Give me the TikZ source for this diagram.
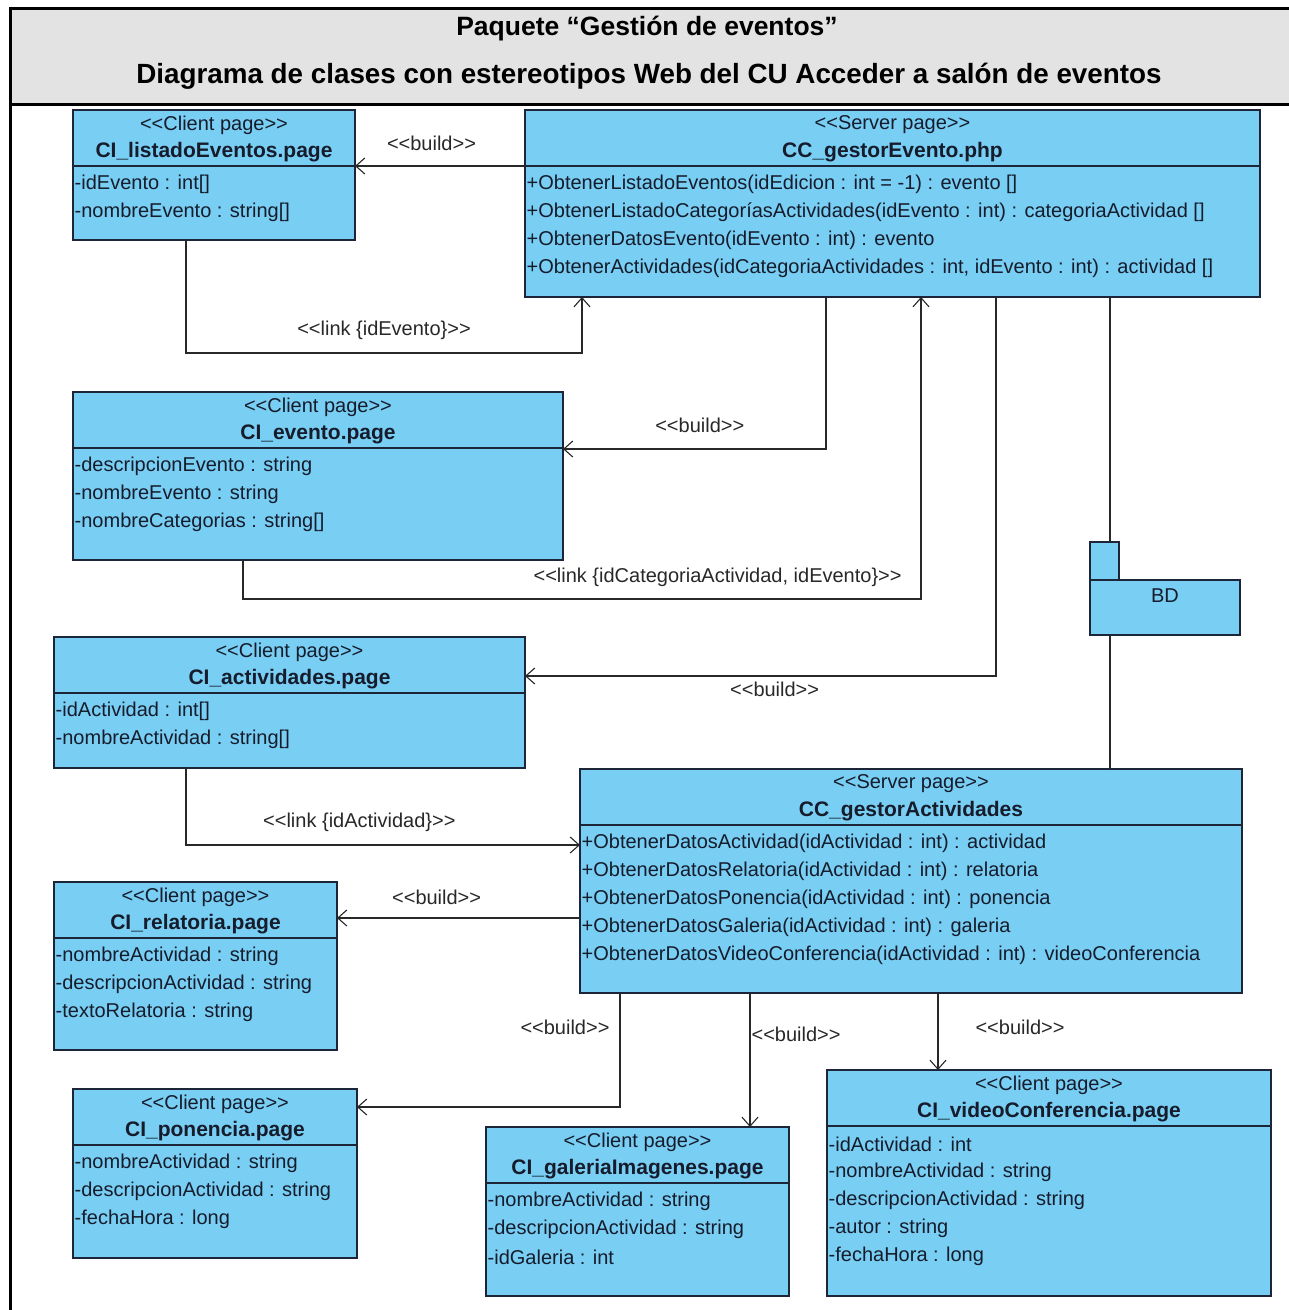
\documentclass[tikz,border=0pt]{standalone}
\usepackage{fontspec}
\setmainfont{Liberation Sans}[Ligatures=TeXOff]
\usetikzlibrary{arrows.meta}

\definecolor{classfill}{RGB}{120,206,243}
\definecolor{classdraw}{RGB}{28,38,56}
\definecolor{headgray}{RGB}{227,227,227}
\definecolor{inktext}{RGB}{22,28,44}
\definecolor{linkgray}{RGB}{40,40,40}

% class box: name, x, y, width, height, stereotype, title, members
\newcommand\umlclass[8]{%
  \node at (#2, #3) [classbox, minimum width=#4, minimum height=#5] (#1) {};
  \draw [classdraw, line width=1.3pt] ([yshift=-56]#1.north west) -- ([yshift=-56]#1.north east);
  \node at ([yshift=-15]#1.north) [member] (#1-st) {#6};
  \node at ([yshift=-42]#1.north) [member, font=\fontsize{21}{24}\selectfont\bfseries] (#1-nm) {#7};
  \foreach \m [count=\i] in {#8}
    \node at ([yshift=-46-28*\i]#1.north west) [member, anchor=west] (#1-m\i) {\m};
}

\begin{document}
\begin{tikzpicture}[x=1pt, y=-1pt,
  classbox/.style={draw=classdraw, fill=classfill, line width=1.3pt, anchor=north west, inner sep=0pt, outer sep=0pt},
  member/.style={inner sep=1.5pt, text=inktext, font=\fontsize{20}{24}\selectfont},
  lbl/.style={inner sep=1pt, text=linkgray, font=\fontsize{20}{24}\selectfont},
  build/.style={draw=linkgray, line width=1.2pt, -{Straight Barb[length=9pt, width=16pt, line width=1.1pt]}},
  plain/.style={draw=linkgray, line width=1.2pt}]
\useasboundingbox (0, 0) rectangle (1289, 1310);

%title band
\node at (10, 8) [fill=headgray, anchor=north west, minimum width=1279, minimum height=96, inner sep=0pt] (cabecera) {};
\node at (647, 29) [font=\fontsize{26.5}{30}\selectfont\bfseries] (titulo1) {Paquete “Gestión de eventos”};
\node at (649, 76) [font=\fontsize{27.8}{30}\selectfont\bfseries] (titulo2) {Diagrama de clases con estereotipos Web del CU Acceder a salón de eventos};
\draw [line width=3pt] (cabecera.north west) -- (cabecera.north east);
\draw [line width=3pt] (cabecera.south west) -- (cabecera.south east);
\draw [line width=3pt] ([yshift=1.5]cabecera.north west) -- (10, 1310);

%pages
\umlclass{listado}{73}{110}{282}{130}{<<Client page>>}{CI\_listadoEventos.page}
  {-idEvento : int[], -nombreEvento : string[]}
\umlclass{gevento}{525}{110}{735}{187}{<<Server page>>}{CC\_gestorEvento.php}
  {+ObtenerListadoEventos(idEdicion : int = -1) : evento [],
   +ObtenerListadoCategoríasActividades(idEvento : int) : categoriaActividad [],
   +ObtenerDatosEvento(idEvento : int) : evento,
   {+ObtenerActividades(idCategoriaActividades : int, idEvento : int) : actividad []}}
\umlclass{evento}{73}{392}{490}{168}{<<Client page>>}{CI\_evento.page}
  {-descripcionEvento : string, -nombreEvento : string, -nombreCategorias : string[]}
\umlclass{actividades}{54}{637}{471}{131}{<<Client page>>}{CI\_actividades.page}
  {-idActividad : int[], -nombreActividad : string[]}
\umlclass{gact}{580}{769}{662}{224}{<<Server page>>}{CC\_gestorActividades}
  {+ObtenerDatosActividad(idActividad : int) : actividad,
   +ObtenerDatosRelatoria(idActividad : int) : relatoria,
   +ObtenerDatosPonencia(idActividad : int) : ponencia,
   +ObtenerDatosGaleria(idActividad : int) : galeria,
   +ObtenerDatosVideoConferencia(idActividad : int) : videoConferencia}
\umlclass{relatoria}{54}{882}{283}{168}{<<Client page>>}{CI\_relatoria.page}
  {-nombreActividad : string, -descripcionActividad : string, -textoRelatoria : string}
\umlclass{ponencia}{73}{1089}{284}{169}{<<Client page>>}{CI\_ponencia.page}
  {-nombreActividad : string, -descripcionActividad : string, -fechaHora : long}
\umlclass{galeria}{486}{1127}{303}{169}{<<Client page>>}{CI\_galeriaImagenes.page}
  {-nombreActividad : string, -descripcionActividad : string, -idGaleria : int}
\umlclass{video}{827}{1070}{444}{226}{<<Client page>>}{CI\_videoConferencia.page}
  {-idActividad : int, -nombreActividad : string, -descripcionActividad : string, -autor : string, -fechaHora : long}

%database package
\node at (1090, 542) [classbox, minimum width=29, minimum height=38] (bdtab) {};
\node at (1090, 580) [classbox, minimum width=150, minimum height=55] (bd) {};
\node at ([yshift=-16]bd.north) [member] (bdlbl) {BD};

%relations of the event server page
\draw [build] ([yshift=-56]gevento.north west) -- ([yshift=-56]listado.north east)
  node[lbl, pos=0.55, yshift=23] (b1) {<<build>>};
\draw [build] ([xshift=113]listado.south west) -- ++(0, 113) -| ([xshift=57]gevento.south west)
  node[lbl, pos=0.25, yshift=23] (l1) {<<link \{idEvento\}>>};
\draw [build] ([xshift=301]gevento.south west) |- ([yshift=-57]evento.north east)
  node[lbl, pos=0.74, yshift=24] (b2) {<<build>>};
\draw [build] ([xshift=170]evento.south west) -- ++(0, 39) -| ([xshift=396]gevento.south west)
  node[lbl, pos=0.35, yshift=22] (l2) {<<link \{idCategoriaActividad, idEvento\}>>};
\draw [build] ([xshift=471]gevento.south west) |- ([yshift=-39]actividades.north east)
  node[lbl, pos=0.735, yshift=-13] (b3) {<<build>>};
\draw [plain] ([xshift=585]gevento.south west) coordinate (g1) -- (g1 |- bdtab.north);
\draw [plain] (g1 |- bd.south) -- (g1 |- gact.north);

%relations of the activity server page
\draw [build] ([xshift=132]actividades.south west) |- ([yshift=-76]gact.north west)
  node[lbl, pos=0.72, yshift=23] (l3) {<<link \{idActividad\}>>};
\draw [build] ([yshift=-149]gact.north west) -- ([yshift=-36]relatoria.north east)
  node[lbl, pos=0.59, yshift=21] (b4) {<<build>>};
\draw [build] ([xshift=40]gact.south west) |- ([yshift=-18]ponencia.north east)
  node[lbl, pos=0.15, xshift=-55] (b5) {<<build>>};
\draw [build] ([xshift=170]gact.south west) -- ([xshift=264]galeria.north west)
  node[lbl, pos=0.31, anchor=west] (b6) {<<build>>};
\draw [build] ([xshift=358]gact.south west) -- ([xshift=111]video.north west)
  node[lbl, pos=0.44, xshift=82] (b7) {<<build>>};
\end{tikzpicture}
\end{document}
